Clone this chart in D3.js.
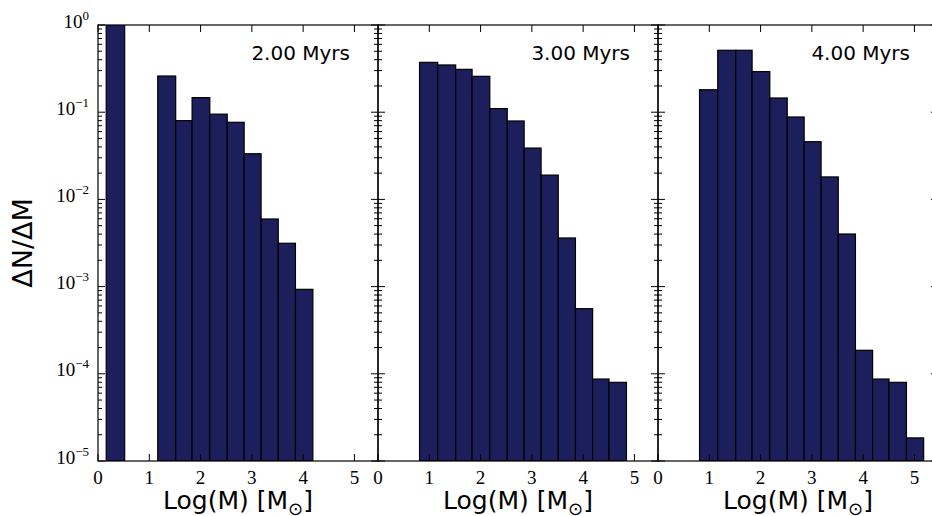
<!DOCTYPE html>
<html>
<head>
<meta charset="utf-8">
<script src="https://cdn.jsdelivr.net/npm/d3@7"></script>
<style>
  body { margin: 0; background: #fff; }
  svg { display: block; }
</style>
</head>
<body>
<div id="chart"></div>
<script>
// Panel labels
const panelTitles = ['2.00 Myrs', '3.00 Myrs', '4.00 Myrs'];

// Bin edges in Log(M) for each panel
const edges2Myr = [0.16, 0.52, 1.165, 1.515, 1.835, 2.18, 2.52, 2.85, 3.18, 3.515, 3.85, 4.19];
const edges3Myr = [0.81, 1.165, 1.515, 1.835, 2.18, 2.52, 2.85, 3.18, 3.515, 3.85, 4.185, 4.505, 4.845];
const edges4Myr = [0.81, 1.165, 1.515, 1.835, 2.18, 2.52, 2.85, 3.18, 3.515, 3.85, 4.185, 4.505, 4.845, 5.18];

// dN/dM per bin (null = empty bin)
const values2Myr = [1.5, null, 0.26, 0.080, 0.147, 0.095, 0.0766, 0.0334, 0.00596, 0.00314, 0.00093];
const values3Myr = [0.373, 0.348, 0.310, 0.258, 0.110, 0.0793, 0.0388, 0.0190, 0.00361, 0.000558, 8.71e-5, 7.98e-5];
const values4Myr = [0.181, 0.513, 0.513, 0.292, 0.1455, 0.0881, 0.0459, 0.0181, 0.00401, 0.000186, 8.71e-5, 7.98e-5, 1.84e-5];

// Axis ticks
const xTicks = [0, 1, 2, 3, 4, 5];
const yDecades = [0, -1, -2, -3, -4, -5];

const panels = [
    { title: panelTitles[0], edges: edges2Myr, values: values2Myr },
    { title: panelTitles[1], edges: edges3Myr, values: values3Myr },
    { title: panelTitles[2], edges: edges4Myr, values: values4Myr }
];

const W = 932, H = 516;
const margin = { top: 25, left: 98 };
const pw = 280, ph = 436;
const barColor = '#1c1f5c';
const serif = '"Liberation Serif", "DejaVu Serif", serif';
const sans = '"DejaVu Sans", sans-serif';

const svg = d3.select('#chart').append('svg')
    .attr('width', W)
    .attr('height', H);

const x = d3.scaleLinear().domain([0, 5.46]).range([0, pw]);
const y = d3.scaleLog().domain([1e-5, 1]).range([ph, 0]);

// minor ticks 2..9 per decade
const minorTicks = [];
yDecades.slice(1).forEach(e => {
    for (let k = 2; k <= 9; k++) minorTicks.push(k * Math.pow(10, e));
});

panels.forEach((p, i) => {
    const g = svg.append('g')
        .attr('transform', `translate(${margin.left + i * pw},${margin.top})`);

    g.append('clipPath').attr('id', 'clip' + i)
        .append('rect').attr('width', pw).attr('height', ph);

    // bars
    const bins = p.values.map((v, j) => ({ x0: p.edges[j], x1: p.edges[j + 1], v }))
        .filter(d => d.v != null);

    g.append('g').attr('clip-path', `url(#clip${i})`)
        .selectAll('rect')
        .data(bins)
        .enter().append('rect')
        .attr('x', d => x(d.x0))
        .attr('y', d => y(d.v))
        .attr('width', d => x(d.x1) - x(d.x0))
        .attr('height', d => ph - y(d.v))
        .attr('fill', barColor)
        .attr('stroke', '#000')
        .attr('stroke-width', 1.2);

    // ticks (inward, all four sides)
    const tickG = g.append('g').attr('stroke', '#000').attr('stroke-width', 1);
    xTicks.forEach(t => {
        tickG.append('line').attr('x1', x(t)).attr('x2', x(t)).attr('y1', ph).attr('y2', ph - 7);
        tickG.append('line').attr('x1', x(t)).attr('x2', x(t)).attr('y1', 0).attr('y2', 7);
    });
    yDecades.forEach(e => {
        const yy = y(Math.pow(10, e));
        tickG.append('line').attr('x1', 0).attr('x2', 7).attr('y1', yy).attr('y2', yy);
        tickG.append('line').attr('x1', pw).attr('x2', pw - 7).attr('y1', yy).attr('y2', yy);
    });
    minorTicks.forEach(v => {
        const yy = y(v);
        tickG.append('line').attr('x1', 0).attr('x2', 4).attr('y1', yy).attr('y2', yy);
        tickG.append('line').attr('x1', pw).attr('x2', pw - 4).attr('y1', yy).attr('y2', yy);
    });

    // frame
    g.append('rect')
        .attr('width', pw).attr('height', ph)
        .attr('fill', 'none')
        .attr('stroke', '#000')
        .attr('stroke-width', 1.2);

    // x tick labels
    g.append('g').selectAll('text')
        .data(xTicks)
        .enter().append('text')
        .attr('x', d => x(d))
        .attr('y', ph + 22.5)
        .attr('text-anchor', 'middle')
        .style('font-family', serif)
        .style('font-size', '19px')
        .text(d => d);

    // y tick labels on first panel only
    if (i === 0) {
        yDecades.forEach(e => {
            const t = g.append('text')
                .attr('x', -9)
                .attr('y', y(Math.pow(10, e)) + 2.5)
                .attr('text-anchor', 'end')
                .style('font-family', serif)
                .style('font-size', '19px');
            t.append('tspan').text('10');
            t.append('tspan')
                .attr('dy', -8)
                .style('font-size', '13px')
                .text(e === 0 ? '0' : '\u2212' + (-e));
        });
    }

    // panel title
    g.append('text')
        .attr('x', pw - 28)
        .attr('y', 35)
        .attr('text-anchor', 'end')
        .style('font-family', sans)
        .style('font-size', '20px')
        .text(p.title);

    // x axis label
    const xl = g.append('text')
        .attr('x', pw / 2)
        .attr('y', ph + 48)
        .attr('text-anchor', 'middle')
        .style('font-family', sans)
        .style('font-size', '25px');
    xl.append('tspan').text('Log(M) [M');
    xl.append('tspan').attr('dy', 6).style('font-size', '18px').text('\u2299');
    xl.append('tspan').attr('dy', -6).text(']');
});

// y axis label
svg.append('text')
    .attr('transform', `translate(32,${margin.top + ph / 2}) rotate(-90)`)
    .attr('text-anchor', 'middle')
    .style('font-family', sans)
    .style('font-size', '27px')
    .text('\u0394N/\u0394M');
</script>
</body>
</html>
